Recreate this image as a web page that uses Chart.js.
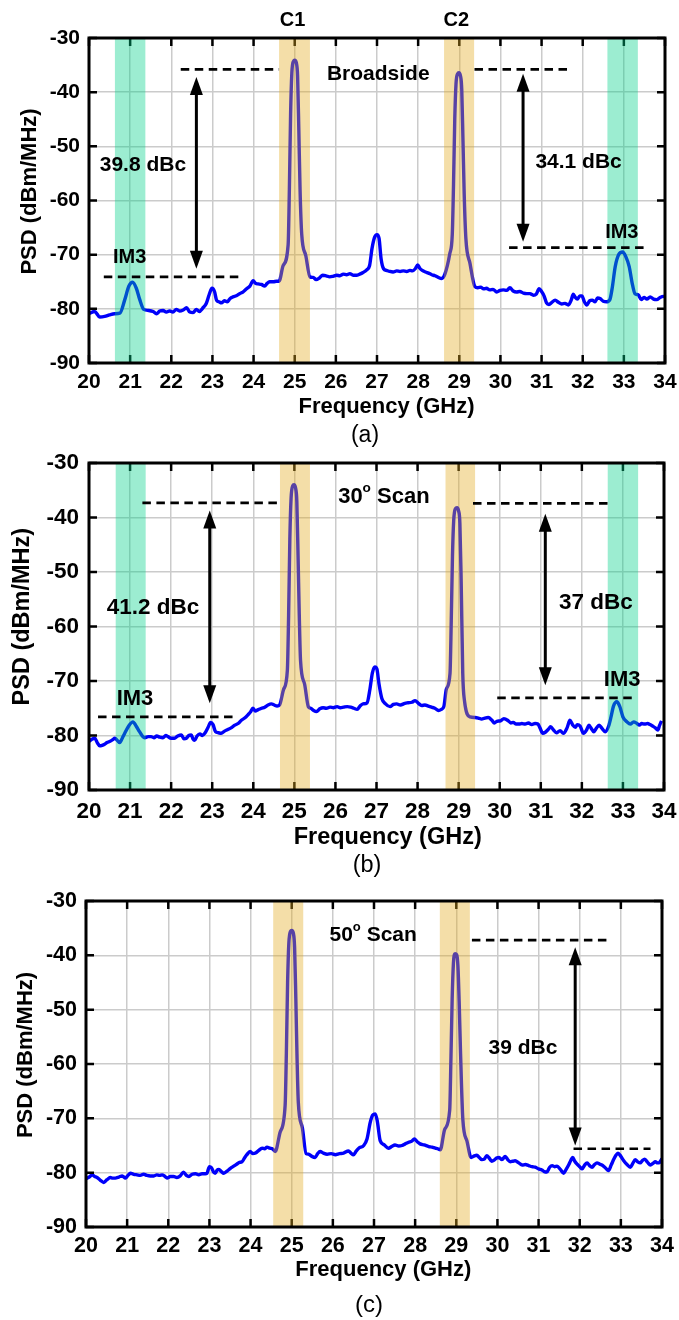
<!DOCTYPE html>
<html>
<head>
<meta charset="utf-8">
<script src="https://cdn.jsdelivr.net/npm/chart.js@4.4.1/dist/chart.umd.min.js"></script>
<style>
  body { margin: 0; background: #fff; width: 679px; height: 1320px; overflow: hidden; position: relative; }
  canvas { position: absolute; left: 0; }
</style>
</head>
<body>
<canvas id="psdA" width="679" height="460" style="top:0"></canvas>
<canvas id="psdB" width="679" height="460" style="top:440px"></canvas>
<canvas id="psdC" width="679" height="460" style="top:880px"></canvas>
<script>
// measured spectra, frequency in GHz and PSD in dBm/MHz
const freqA = [20.00,20.14,20.26,20.38,20.50,20.62,20.75,20.87,20.97,21.06,21.15,21.23,21.33,21.45,21.56,21.64,21.72,21.80,21.88,21.96,22.04,22.12,22.20,22.29,22.37,22.45,22.53,22.61,22.68,22.76,22.85,22.92,22.99,23.05,23.10,23.16,23.22,23.29,23.36,23.43,23.50,23.58,23.66,23.74,23.83,23.91,23.99,24.05,24.11,24.19,24.27,24.33,24.39,24.48,24.56,24.62,24.72,24.84,24.87,24.90,24.93,24.97,25.00,25.04,25.07,25.10,25.13,25.17,25.27,25.37,25.45,25.52,25.60,25.68,25.76,25.85,25.93,26.02,26.10,26.18,26.26,26.34,26.42,26.50,26.58,26.66,26.75,26.82,26.88,26.94,27.00,27.05,27.10,27.16,27.23,27.31,27.39,27.48,27.56,27.64,27.72,27.80,27.86,27.93,27.99,28.04,28.10,28.18,28.25,28.33,28.41,28.49,28.57,28.65,28.77,28.83,28.86,28.89,28.92,28.96,28.99,29.03,29.06,29.09,29.12,29.16,29.26,29.38,29.45,29.52,29.59,29.66,29.74,29.82,29.91,29.99,30.07,30.15,30.23,30.31,30.39,30.47,30.56,30.64,30.72,30.80,30.87,30.94,31.00,31.06,31.12,31.18,31.25,31.33,31.41,31.49,31.57,31.65,31.72,31.77,31.82,31.87,31.93,31.98,32.04,32.10,32.17,32.23,32.30,32.36,32.42,32.50,32.58,32.66,32.72,32.79,32.88,32.97,33.05,33.13,33.20,33.27,33.35,33.42,33.49,33.56,33.64,33.72,33.80,33.88,33.96,34.00];
const psdA = [-80.9,-80.5,-81.5,-81.4,-81.1,-80.9,-80.8,-78.3,-75.8,-75.1,-76.2,-78.2,-80.1,-80.3,-80.5,-80.9,-80.4,-80.3,-80.6,-80.4,-80.6,-80.1,-80.4,-80.2,-79.8,-80.6,-80.7,-80.1,-80.5,-79.9,-79.0,-77.4,-76.2,-76.8,-78.4,-78.7,-78.9,-78.5,-78.7,-78.1,-77.8,-77.6,-77.2,-76.9,-76.3,-75.8,-74.8,-75.3,-75.4,-75.5,-75.8,-75.3,-75.0,-75.0,-74.9,-74.9,-72.0,-68.2,-58.0,-44.0,-36.5,-34.3,-34.1,-34.6,-37.0,-47.0,-58.0,-66.2,-70.2,-74.1,-74.2,-74.6,-74.3,-73.8,-73.9,-74.1,-74.0,-73.8,-73.9,-73.6,-73.7,-73.5,-73.8,-73.8,-73.6,-73.3,-72.8,-72.0,-68.8,-66.8,-66.3,-67.0,-70.8,-72.6,-72.9,-73.1,-73.2,-73.0,-73.1,-73.0,-73.1,-72.9,-73.0,-72.6,-71.9,-72.5,-72.9,-73.2,-73.4,-73.7,-73.9,-74.2,-74.4,-73.6,-69.8,-66.2,-57.0,-45.0,-38.5,-36.6,-36.4,-37.0,-39.5,-49.0,-59.0,-67.0,-71.6,-75.9,-76.1,-76.0,-76.3,-76.2,-76.5,-76.4,-76.9,-76.6,-76.5,-76.6,-76.1,-76.7,-76.9,-76.8,-77.1,-77.2,-77.2,-77.5,-77.3,-76.3,-76.8,-77.6,-78.9,-79.2,-78.8,-78.4,-78.8,-79.1,-79.0,-79.3,-78.4,-77.3,-77.9,-78.2,-77.6,-77.6,-78.7,-79.3,-78.5,-78.4,-78.7,-78.0,-78.1,-78.6,-78.7,-78.3,-76.0,-72.2,-69.9,-69.5,-70.4,-72.2,-75.2,-77.2,-77.4,-78.3,-77.9,-78.2,-77.8,-78.2,-78.3,-77.9,-77.7,-77.8];

const freqB = [20.00,20.07,20.14,20.20,20.26,20.32,20.38,20.44,20.50,20.57,20.63,20.69,20.75,20.81,20.87,20.97,21.07,21.15,21.23,21.30,21.36,21.44,21.51,21.58,21.65,21.72,21.80,21.87,21.92,22.00,22.08,22.16,22.25,22.31,22.37,22.43,22.49,22.53,22.57,22.63,22.70,22.76,22.82,22.90,22.96,23.02,23.08,23.15,23.22,23.30,23.38,23.46,23.55,23.63,23.71,23.79,23.87,23.94,23.99,24.05,24.11,24.20,24.28,24.36,24.44,24.51,24.58,24.64,24.74,24.83,24.86,24.89,24.92,24.96,24.99,25.03,25.06,25.09,25.12,25.15,25.25,25.34,25.40,25.47,25.54,25.62,25.70,25.78,25.87,25.95,26.04,26.12,26.20,26.29,26.37,26.45,26.53,26.60,26.67,26.77,26.84,26.90,26.96,27.01,27.06,27.13,27.22,27.33,27.41,27.49,27.58,27.69,27.77,27.86,27.94,28.02,28.10,28.18,28.26,28.34,28.42,28.51,28.58,28.64,28.70,28.79,28.82,28.85,28.88,28.92,28.96,29.00,29.03,29.06,29.10,29.14,29.28,29.40,29.48,29.56,29.64,29.72,29.81,29.87,29.93,30.02,30.10,30.21,30.27,30.33,30.40,30.47,30.54,30.62,30.70,30.78,30.86,30.93,30.98,31.05,31.11,31.18,31.24,31.31,31.38,31.47,31.55,31.64,31.71,31.78,31.84,31.89,31.96,32.04,32.12,32.17,32.22,32.29,32.35,32.42,32.49,32.57,32.65,32.71,32.77,32.85,32.92,33.00,33.10,33.18,33.26,33.34,33.40,33.46,33.53,33.60,33.66,33.73,33.79,33.85,33.89,33.94,34.00];
const psdB = [-81.1,-80.7,-80.5,-81.3,-81.9,-81.8,-81.6,-81.3,-81.1,-80.8,-80.5,-80.9,-81.3,-80.5,-79.6,-78.2,-77.5,-78.3,-79.3,-80.1,-80.4,-80.2,-80.2,-80.4,-80.1,-80.3,-80.4,-80.0,-80.2,-80.5,-80.5,-80.1,-79.9,-80.6,-80.5,-80.0,-79.9,-80.6,-80.9,-80.1,-79.7,-80.0,-79.6,-78.5,-77.6,-78.0,-79.3,-79.5,-79.6,-79.2,-78.9,-78.6,-78.1,-77.8,-77.2,-76.8,-76.2,-75.6,-75.0,-75.5,-75.3,-75.0,-74.8,-74.4,-74.2,-74.4,-74.6,-74.4,-71.5,-68.0,-58.0,-44.0,-36.5,-34.2,-34.0,-34.6,-37.0,-47.0,-58.0,-66.2,-70.6,-74.7,-75.0,-75.4,-75.6,-75.1,-74.9,-75.0,-74.8,-74.9,-74.7,-74.9,-74.8,-74.7,-74.8,-75.0,-75.2,-74.6,-74.2,-74.0,-71.5,-68.5,-67.4,-67.8,-70.5,-73.2,-74.2,-74.7,-74.3,-74.2,-74.4,-74.1,-74.0,-73.9,-73.6,-74.1,-74.5,-74.4,-74.6,-74.8,-75.0,-75.4,-75.2,-74.7,-71.5,-68.6,-59.0,-47.0,-40.5,-38.4,-38.2,-38.8,-41.0,-51.0,-68.6,-73.5,-76.6,-76.7,-76.8,-77.0,-76.8,-76.7,-77.2,-77.7,-77.4,-77.3,-76.9,-77.3,-77.7,-77.6,-77.9,-77.9,-77.8,-77.9,-77.7,-78.0,-77.8,-77.9,-78.6,-79.6,-79.4,-78.9,-78.4,-79.0,-79.5,-79.1,-79.6,-78.6,-77.2,-78.1,-78.5,-78.0,-78.3,-79.6,-78.9,-78.1,-78.6,-79.3,-78.7,-78.1,-78.7,-79.3,-78.3,-76.6,-74.6,-73.8,-74.6,-76.6,-77.5,-77.9,-77.5,-77.8,-78.1,-77.8,-77.9,-77.8,-78.0,-78.3,-78.6,-79.0,-78.2,-77.3];

const freqC = [20.00,20.08,20.15,20.21,20.27,20.35,20.43,20.51,20.59,20.65,20.71,20.80,20.88,20.96,21.02,21.08,21.16,21.24,21.32,21.40,21.48,21.56,21.65,21.72,21.79,21.85,21.92,21.97,22.05,22.13,22.21,22.29,22.37,22.44,22.50,22.58,22.66,22.74,22.82,22.90,22.94,23.00,23.05,23.10,23.14,23.19,23.23,23.29,23.35,23.43,23.51,23.59,23.67,23.73,23.79,23.86,23.91,23.99,24.05,24.12,24.20,24.28,24.34,24.40,24.47,24.53,24.60,24.72,24.84,24.87,24.90,24.93,24.97,25.00,25.04,25.07,25.10,25.13,25.16,25.26,25.35,25.41,25.49,25.57,25.63,25.69,25.77,25.86,25.96,26.06,26.16,26.26,26.38,26.44,26.50,26.57,26.63,26.75,26.83,26.91,26.97,27.03,27.08,27.15,27.25,27.35,27.43,27.51,27.60,27.68,27.76,27.84,27.92,27.98,28.05,28.12,28.22,28.33,28.41,28.49,28.55,28.61,28.72,28.84,28.87,28.90,28.93,28.97,29.01,29.04,29.07,29.10,29.16,29.26,29.36,29.44,29.50,29.56,29.62,29.68,29.74,29.80,29.86,29.92,29.98,30.04,30.11,30.19,30.25,30.31,30.37,30.43,30.52,30.60,30.68,30.76,30.84,30.92,31.00,31.08,31.14,31.20,31.27,31.33,31.39,31.45,31.53,31.61,31.67,31.73,31.78,31.83,31.88,31.93,32.00,32.06,32.12,32.18,32.24,32.30,32.36,32.42,32.48,32.54,32.62,32.70,32.77,32.83,32.88,32.93,33.00,33.07,33.15,33.23,33.29,33.35,33.41,33.47,33.52,33.58,33.65,33.72,33.78,33.84,33.89,33.93,33.97,34.00];
const psdC = [-81.1,-80.8,-80.4,-80.7,-80.9,-81.4,-81.8,-81.3,-80.9,-81.0,-81.0,-80.8,-80.6,-81.0,-80.5,-80.1,-80.3,-80.4,-80.5,-80.3,-80.5,-80.6,-80.6,-80.4,-80.5,-80.4,-80.7,-81.0,-80.7,-80.7,-80.9,-80.6,-79.9,-80.5,-80.7,-80.3,-80.2,-80.4,-80.2,-80.2,-80.1,-78.9,-79.1,-79.9,-80.1,-79.5,-79.4,-79.8,-80.1,-79.7,-79.2,-78.8,-78.4,-78.1,-78.0,-77.2,-76.7,-76.1,-76.5,-76.4,-75.9,-75.5,-75.6,-75.3,-75.5,-75.6,-76.1,-72.5,-67.6,-58.0,-45.0,-37.8,-35.6,-35.4,-35.9,-38.5,-48.0,-59.0,-67.0,-71.8,-76.5,-76.6,-77.0,-77.2,-76.5,-76.1,-76.4,-76.6,-76.5,-76.7,-76.5,-76.4,-76.0,-76.4,-76.7,-76.0,-75.5,-75.0,-73.8,-70.7,-69.4,-69.2,-70.5,-74.1,-74.9,-75.5,-75.2,-74.9,-75.1,-75.0,-74.7,-74.4,-74.2,-73.8,-74.3,-74.7,-74.9,-75.2,-75.3,-75.5,-75.6,-75.8,-72.0,-68.5,-59.0,-48.0,-41.5,-39.7,-39.9,-42.0,-48.5,-57.0,-70.3,-74.2,-77.2,-76.9,-76.8,-77.2,-77.6,-77.5,-76.9,-77.3,-77.9,-77.7,-77.3,-77.2,-77.6,-77.0,-77.6,-78.0,-77.9,-77.8,-78.2,-78.6,-78.5,-78.7,-78.9,-79.0,-79.3,-79.5,-79.8,-79.9,-79.0,-78.7,-78.9,-78.8,-79.4,-80.1,-79.4,-78.6,-77.8,-77.2,-77.9,-78.4,-78.9,-79.3,-78.6,-78.2,-78.7,-79.0,-78.5,-78.2,-78.4,-78.6,-79.1,-79.6,-78.5,-77.5,-76.8,-76.4,-77.0,-77.8,-78.5,-79.0,-78.3,-77.6,-78.0,-78.2,-77.8,-77.5,-78.1,-78.6,-78.3,-78.0,-78.2,-78.2,-77.8,-77.4];

const FONT = '"Liberation Sans", Arial, Helvetica, sans-serif';
const CARRIER_FILL = 'rgba(227,170,31,0.39)';
const IM3_FILL = 'rgba(0,208,136,0.39)';
const CANVAS_W = 679, CANVAS_H = 460, X_AXIS_H = 60;

// per-panel layout and annotations (annotation positions in data units)
const layoutA = {
  area: { left: 89, top: 38, right: 665, bottom: 363 },
  tickSize: 21, titleSize: 22, xPad: 7, yPad: 9,
  yTitle: [29.5, 191.5], xTitle: [386.5, 407], caption: ['(a)', 365, 436, 23],
  bands: [[20.63, 21.37, 'im3'], [24.62, 25.37, 'c'], [28.63, 29.36, 'c'], [32.6, 33.34, 'im3']],
  dashes: [[22.23, 24.62, -35.8], [29.37, 31.73, -35.8], [20.36, 23.71, -74.1], [30.21, 33.56, -68.7]],
  arrows: [[22.61, -37.2, -72.6], [30.55, -36.6, -67.6]],
  notes: [[['C1'], 24.95, -26.7, 20], [['C2'], 28.93, -26.7, 20], [['Broadside'], 27.03, -36.7, 21],
          [['39.8 dBc'], 21.31, -53.4, 21], [['IM3'], 20.99, -70.5, 20],
          [['34.1 dBc'], 31.9, -53.0, 21], [['IM3'], 32.95, -65.9, 20]]
};
const layoutB = {
  area: { left: 89, top: 23, right: 664, bottom: 350 },
  tickSize: 22.5, titleSize: 23.5, xPad: 8, yPad: 10,
  yTitle: [23, 176.7], xTitle: [387.7, 398], caption: ['(b)', 367, 426, 23.5],
  bands: [[20.65, 21.38, 'im3'], [24.65, 25.38, 'c'], [28.68, 29.4, 'c'], [32.63, 33.37, 'im3']],
  dashes: [[21.3, 24.65, -37.3], [29.35, 32.69, -37.4], [20.22, 23.59, -76.6], [29.94, 33.32, -73.1]],
  arrows: [[22.94, -38.7, -74.1], [31.11, -39.3, -70.8]],
  notes: [[['30', 'o', ' Scan'], 27.18, -36.2, 22], [['41.2 dBc'], 21.56, -56.6, 22.5], [['IM3'], 21.12, -73.2, 22],
          [['37 dBc'], 32.34, -55.7, 22.5], [['IM3'], 32.98, -69.8, 22]]
};
const layoutC = {
  area: { left: 86, top: 21, right: 662, bottom: 347 },
  tickSize: 21.5, titleSize: 22, xPad: 6, yPad: 9,
  yTitle: [25.5, 175], xTitle: [383.3, 390], caption: ['(c)', 369, 425, 24],
  bands: [[24.55, 25.28, 'c'], [28.6, 29.33, 'c']],
  dashes: [[29.38, 32.73, -37.2], [31.85, 33.72, -75.6]],
  arrows: [[31.89, -38.5, -75.0]],
  notes: [[['50', 'o', ' Scan'], 26.98, -36.3, 21], [['39 dBc'], 30.62, -57.1, 21]]
};

function bold(px) { return `bold ${px}px ${FONT}`; }

// text made of parts; every second part is drawn as a small raised glyph
function drawParts(ctx, parts, cx, cy, size) {
  const widths = parts.map((t, i) => {
    ctx.font = bold(i % 2 ? size * 0.62 : size);
    return ctx.measureText(t).width;
  });
  let x = cx - widths.reduce((s, w) => s + w, 0) / 2;
  ctx.textAlign = 'left';
  ctx.textBaseline = 'middle';
  parts.forEach((t, i) => {
    ctx.font = bold(i % 2 ? size * 0.62 : size);
    ctx.fillText(t, x, i % 2 ? cy - size * 0.38 : cy);
    x += widths[i];
  });
}

function drawArrow(ctx, px, top, bottom) {
  const hl = 18, hw = 6.5;
  ctx.lineWidth = 3;
  ctx.beginPath();
  ctx.moveTo(px, top + hl - 2);
  ctx.lineTo(px, bottom - hl + 2);
  ctx.stroke();
  ctx.beginPath();
  ctx.moveTo(px, top); ctx.lineTo(px - hw, top + hl); ctx.lineTo(px + hw, top + hl);
  ctx.closePath(); ctx.fill();
  ctx.beginPath();
  ctx.moveTo(px, bottom); ctx.lineTo(px - hw, bottom - hl); ctx.lineTo(px + hw, bottom - hl);
  ctx.closePath(); ctx.fill();
}

const spectrumDecor = {
  id: 'spectrumDecor',
  afterDatasetsDraw(chart, args, o) {
    const { ctx, chartArea: a, scales: { x, y } } = chart;
    ctx.save();
    // inward tick marks on all four sides
    ctx.strokeStyle = '#000';
    ctx.lineWidth = 2.5;
    ctx.beginPath();
    x.ticks.forEach(t => {
      const px = x.getPixelForValue(t.value);
      ctx.moveTo(px, a.top); ctx.lineTo(px, a.top + 8);
      ctx.moveTo(px, a.bottom); ctx.lineTo(px, a.bottom - 8);
    });
    y.ticks.forEach(t => {
      const py = y.getPixelForValue(t.value);
      ctx.moveTo(a.left, py); ctx.lineTo(a.left + 8, py);
      ctx.moveTo(a.right, py); ctx.lineTo(a.right - 8, py);
    });
    ctx.stroke();
    // carrier and IM3 bands lie over the trace
    o.bands.forEach(([lo, hi, kind]) => {
      const l = x.getPixelForValue(lo), r = x.getPixelForValue(hi);
      ctx.fillStyle = kind === 'im3' ? IM3_FILL : CARRIER_FILL;
      ctx.fillRect(l, a.top, r - l, a.bottom - a.top);
    });
    ctx.restore();
  },
  afterDraw(chart, args, o) {
    const { ctx, chartArea: a, scales: { x, y } } = chart;
    ctx.save();
    ctx.strokeStyle = '#000';
    ctx.fillStyle = '#000';

    ctx.lineWidth = 3;
    ctx.strokeRect(a.left, a.top, a.right - a.left, a.bottom - a.top);

    ctx.setLineDash([8.5, 5.5]);
    ctx.lineWidth = 2.7;
    o.dashes.forEach(([x1, x2, v]) => {
      const py = y.getPixelForValue(v);
      ctx.beginPath();
      ctx.moveTo(x.getPixelForValue(x1), py);
      ctx.lineTo(x.getPixelForValue(x2), py);
      ctx.stroke();
    });
    ctx.setLineDash([]);

    o.arrows.forEach(([f, v1, v2]) => {
      drawArrow(ctx, x.getPixelForValue(f), y.getPixelForValue(v1), y.getPixelForValue(v2));
    });

    o.notes.forEach(([parts, f, v, size]) => {
      drawParts(ctx, parts, x.getPixelForValue(f), y.getPixelForValue(v), size);
    });

    // axis titles and panel caption
    ctx.textAlign = 'center';
    ctx.textBaseline = 'middle';
    ctx.font = bold(o.titleSize);
    ctx.fillText('Frequency (GHz)', o.xTitle[0], o.xTitle[1]);
    ctx.save();
    ctx.translate(o.yTitle[0], o.yTitle[1]);
    ctx.rotate(-Math.PI / 2);
    ctx.fillText('PSD (dBm/MHz)', 0, 0);
    ctx.restore();
    const [cap, cx, cy, cs] = o.caption;
    ctx.font = `${cs}px ${FONT}`;
    ctx.fillText(cap, cx, cy);
    ctx.restore();
  }
};

function makeChart(id, freq, psd, p) {
  const tickFont = { family: FONT, size: p.tickSize, weight: 'bold', lineHeight: 1.2 };
  const grid = { color: '#cbcbcb', lineWidth: 1.5, drawTicks: false };
  return new Chart(document.getElementById(id), {
    type: 'line',
    data: {
      datasets: [{
        data: freq.map((f, i) => ({ x: f, y: psd[i] })),
        borderColor: 'rgb(0,0,250)',
        borderWidth: 3.4,
        pointRadius: 0,
        cubicInterpolationMode: 'monotone',
        fill: false
      }]
    },
    options: {
      responsive: false,
      animation: false,
      devicePixelRatio: 1,
      layout: {
        padding: {
          top: p.area.top, left: 0,
          right: CANVAS_W - p.area.right,
          bottom: CANVAS_H - p.area.bottom - X_AXIS_H
        }
      },
      plugins: { legend: { display: false }, tooltip: { enabled: false }, spectrumDecor: p },
      scales: {
        x: {
          type: 'linear', min: 20, max: 34,
          ticks: { stepSize: 1, autoSkip: false, maxRotation: 0, padding: p.xPad, color: '#000', font: tickFont },
          grid: grid,
          border: { display: false },
          afterFit: s => { s.height = X_AXIS_H; s.paddingLeft = 0; s.paddingRight = 0; }
        },
        y: {
          min: -90, max: -30,
          ticks: { stepSize: 10, padding: p.yPad, color: '#000', font: tickFont },
          grid: grid,
          border: { display: false },
          afterFit: s => { s.width = p.area.left; s.paddingTop = 0; s.paddingBottom = 0; }
        }
      }
    },
    plugins: [spectrumDecor]
  });
}

makeChart('psdA', freqA, psdA, layoutA);
makeChart('psdB', freqB, psdB, layoutB);
makeChart('psdC', freqC, psdC, layoutC);
</script>
</body>
</html>
